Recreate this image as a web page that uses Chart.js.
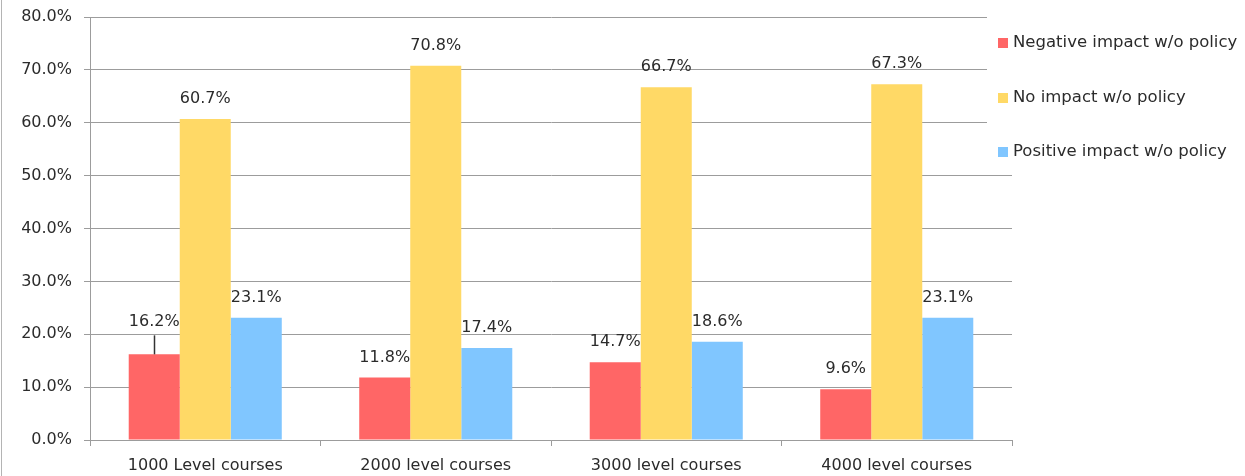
<!DOCTYPE html>
<html>
<head>
<meta charset="utf-8">
<script src="https://cdn.jsdelivr.net/npm/chart.js@4.4.0/dist/chart.umd.min.js"></script>
<style>
  html, body { margin: 0; padding: 0; background: #fff; }
  #wrap { position: relative; width: 1245px; height: 476px; }
</style>
</head>
<body>
<div id="wrap"><canvas id="impactChart" width="1245" height="476"></canvas></div>
<script>
var categories = ["1000 Level courses", "2000 level courses", "3000 level courses", "4000 level courses"];
var negativeImpact = [16.2, 11.8, 14.7, 9.6];
var noImpact = [60.7, 70.8, 66.7, 67.3];
var positiveImpact = [23.1, 17.4, 18.6, 23.1];
var seriesNames = ["Negative impact w/o policy", "No impact w/o policy", "Positive impact w/o policy"];
var seriesColors = ["#ff6666", "#ffd966", "#80c6ff"];

var FONT = "'DejaVu Sans', Verdana, sans-serif";
var TEXT = "#2b2b2b";
var GRID = "#9c9c9c";

// labels above bars, one of them lifted with a leader line
var barLabels = {
  id: 'barLabels',
  afterDatasetsDraw: function(chart, args, opts) {
    var ctx = chart.ctx;
    ctx.save();
    ctx.font = "16px " + FONT;
    ctx.fillStyle = TEXT;
    ctx.textAlign = "center";
    ctx.textBaseline = "middle";
    chart.data.datasets.forEach(function(ds, di) {
      var meta = chart.getDatasetMeta(di);
      meta.data.forEach(function(bar, i) {
        var lift = (opts.lifted[di + "-" + i] || 0);
        var y = bar.y - 20 - lift;
        if (lift) {
          ctx.strokeStyle = "#333";
          ctx.lineWidth = 1.5;
          ctx.beginPath();
          ctx.moveTo(Math.round(bar.x) + 0.5, y + 13);
          ctx.lineTo(Math.round(bar.x) + 0.5, bar.y);
          ctx.stroke();
        }
        ctx.fillText(ds.data[i].toFixed(1) + "%", bar.x, y);
      });
    });
    ctx.restore();
  }
};

// legend box drawn over the right end of the plot, plus the frame line on the left
var sideLegend = {
  id: 'sideLegend',
  beforeDraw: function(chart) {
    var ctx = chart.ctx;
    ctx.save();
    ctx.strokeStyle = "#b4b4b4";
    ctx.lineWidth = 1;
    ctx.beginPath();
    ctx.moveTo(1.5, 0);
    ctx.lineTo(1.5, chart.height);
    ctx.stroke();
    ctx.restore();
  },
  afterDraw: function(chart) {
    var ctx = chart.ctx;
    ctx.save();
    ctx.fillStyle = "#fff";
    ctx.fillRect(987, 8, 258, 160);
    ctx.font = "16.5px " + FONT;
    ctx.textBaseline = "middle";
    ctx.textAlign = "left";
    chart.data.datasets.forEach(function(ds, di) {
      var y = 43 + di * 54.5;
      ctx.fillStyle = ds.backgroundColor;
      ctx.fillRect(998, Math.round(y) - 5, 10, 10);
      ctx.fillStyle = TEXT;
      ctx.fillText(ds.label, 1013, y);
    });
    ctx.restore();
  }
};

var impactChart = new Chart(document.getElementById("impactChart"), {
  type: 'bar',
  data: {
    labels: categories,
    datasets: [{
      label: seriesNames[0],
      data: negativeImpact,
      backgroundColor: seriesColors[0]
    },
    {
      label: seriesNames[1],
      data: noImpact,
      backgroundColor: seriesColors[1]
    },
    {
      label: seriesNames[2],
      data: positiveImpact,
      backgroundColor: seriesColors[2]
    }]
  },
  options: {
    responsive: false,
    animation: false,
    layout: { padding: { top: 17, right: 233, left: 0, bottom: 0 } },
    datasets: { bar: { barPercentage: 1, categoryPercentage: 0.664 } },
    plugins: {
      legend: { display: false },
      tooltip: { enabled: false },
      barLabels: { lifted: { "0-0": 12 } }
    },
    scales: {
      x: {
        afterFit: function(scale) { scale.height = 36; scale.paddingLeft = 0; scale.paddingRight = 0; },
        grid: { offset: true, drawOnChartArea: false, color: GRID, tickLength: 6 },
        border: { color: GRID },
        ticks: { color: TEXT, font: { family: FONT, size: 16 }, padding: 10, maxRotation: 0 }
      },
      y: {
        min: 0,
        max: 80,
        afterFit: function(scale) { scale.width = 90; scale.paddingTop = 0; scale.paddingBottom = 0; },
        grid: { color: GRID, tickLength: 6 },
        border: { color: GRID },
        ticks: {
          stepSize: 10,
          color: TEXT,
          font: { family: FONT, size: 16 },
          padding: 12,
          callback: function(v) { return v.toFixed(1) + "%"; }
        }
      }
    }
  },
  plugins: [barLabels, sideLegend]
});
</script>
</body>
</html>
